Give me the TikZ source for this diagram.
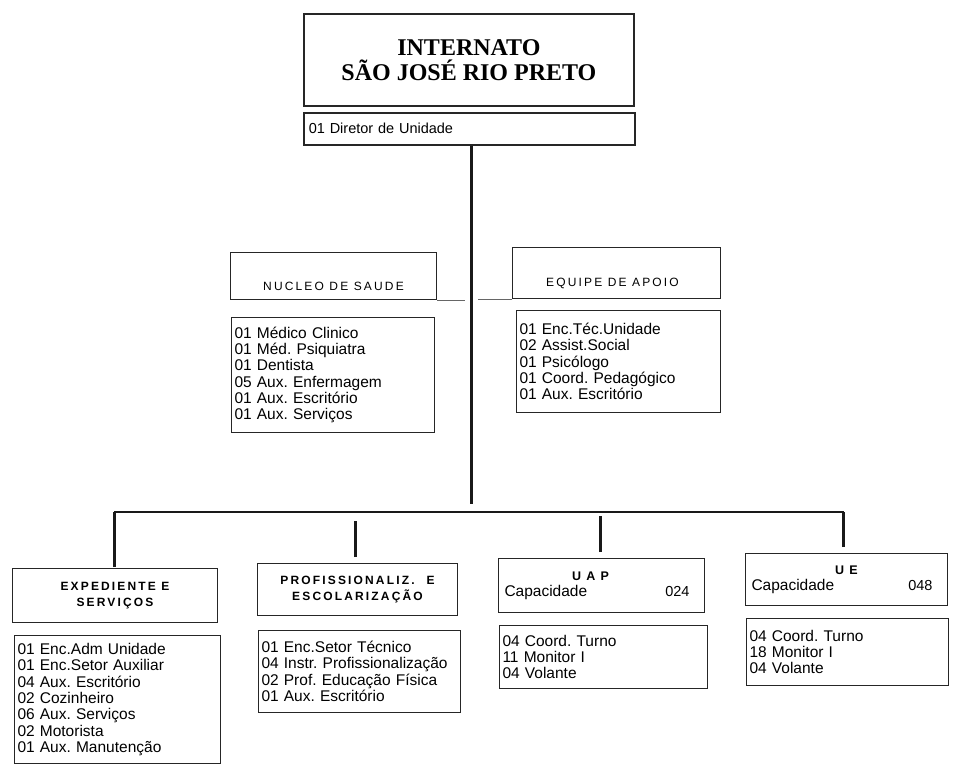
\documentclass[tikz,border=0pt]{standalone}
\usepackage{fontspec}
\setmainfont{Liberation Sans}
\newfontfamily\titlefont{Liberation Serif}
\newfontfamily\hdfont[LetterSpace=18]{Liberation Sans}
\frenchspacing
\begin{document}
\begin{tikzpicture}[x=1pt,y=-1pt,
  box/.style={draw=black!85, line width=1pt, inner sep=0pt, anchor=north west},
  listbox/.style={box, align=left, inner xsep=3pt, font=\frenchspacing\fontsize{15.5}{16.3}\selectfont},
  hdtext/.style={font=\hdfont\fontsize{12}{15}\selectfont, align=center, inner sep=0pt},
  bdtext/.style={font=\hdfont\bfseries\fontsize{12}{15.5}\selectfont, align=center},
  trunk/.style={line width=3pt, black!90},
  barline/.style={line width=2pt, black!90},
  thinline/.style={line width=0.9pt, black!60}]
\useasboundingbox (0,0) rectangle (956,775);

% top
\node[box, line width=1.8pt, minimum width=330, minimum height=92, align=center,
  font=\titlefont\bfseries\fontsize{24}{25}\selectfont] (title) at (303,13)
  {INTERNATO\\SÃO JOSÉ RIO PRETO};
\node[box, line width=1.6pt, minimum width=331, minimum height=32, text width=321,
  inner xsep=5pt, align=left, font=\fontsize{14.5}{16}\selectfont] (dir) at (303,112)
  {01 Diretor de Unidade};

% middle level
\node[box, minimum width=206, minimum height=47] (nuc) at (230,252) {};
\node[hdtext] (nuct) at ([yshift=-10pt]nuc.center) {NUCLEO DE SAUDE};
\node[listbox, text width=197, minimum height=115] (nucl) at (231,317)
  {01 Médico Clinico\\01 Méd. Psiquiatra\\01 Dentista\\05 Aux. Enfermagem\\01 Aux. Escritório\\01 Aux. Serviços};

\node[box, minimum width=208, minimum height=51] (eq) at (512,247) {};
\node[hdtext] (eqt) at ([xshift=-4pt,yshift=-10pt]eq.center) {EQUIPE DE APOIO};
\node[listbox, text width=198, minimum height=102] (eql) at (516,310)
  {01 Enc.Téc.Unidade\\02 Assist.Social\\01 Psicólogo\\01 Coord. Pedagógico\\01 Aux. Escritório};

% bottom level
\node[box, minimum width=205, minimum height=54, bdtext] (exp) at (12,568)
  {EXPEDIENTE E\\SERVIÇOS};
\node[listbox, text width=200, minimum height=128] (expl) at (14,635)
  {01 Enc.Adm Unidade\\01 Enc.Setor Auxiliar\\04 Aux. Escritório\\02 Cozinheiro\\06 Aux. Serviços\\02 Motorista\\01 Aux. Manutenção};

\node[box, minimum width=200, minimum height=52, bdtext] (prof) at (257,563)
  {PROFISSIONALIZ.\quad E\\ESCOLARIZAÇÃO};
\node[listbox, text width=196, minimum height=82] (profl) at (258,630)
  {01 Enc.Setor Técnico\\04 Instr. Profissionalização\\02 Prof. Educação Física\\01 Aux. Escritório};

\node[box, minimum width=206, minimum height=54, text width=194, inner xsep=6pt,
  align=left, font=\fontsize{15.5}{16}\selectfont] (uap) at (498,558)
  {\hspace*{\fill}{\hdfont\bfseries\fontsize{12.5}{15}\selectfont U A P}\hspace*{\fill}\hspace*{22pt}\null\\Capacidade\hfill {\fontsize{14.5}{16}\selectfont 024}\hspace*{9pt}\null};
\node[listbox, text width=202, minimum height=63] (uapl) at (499,625)
  {04 Coord. Turno\\11 Monitor I\\04 Volante};

\node[box, minimum width=202, minimum height=52, text width=190, inner xsep=6pt,
  align=left, font=\fontsize{15.5}{16}\selectfont] (ue) at (745,553)
  {\hspace*{\fill}{\hdfont\bfseries\fontsize{12.5}{15}\selectfont U E}\hspace*{\fill}\null\\Capacidade\hfill {\fontsize{14.5}{16}\selectfont 048}\hspace*{9pt}\null};
\node[listbox, text width=196, minimum height=67] (uel) at (746,618)
  {04 Coord. Turno\\18 Monitor I\\04 Volante};

% connectors
\coordinate (trunkend) at (471,504);
\coordinate (bar) at (471,512);
\coordinate (g1) at (465,298);
\coordinate (g2) at (478,298);
\draw[thinline] (nuc.south east) -- (nuc.south east -| g1);
\draw[thinline] (eq.south west -| g2) -- (eq.south west);
\draw[trunk] (dir.south -| trunkend) -- (trunkend);
\draw[barline] ([xshift=-1pt]exp.north |- bar) -- ([xshift=-3pt]ue.north |- bar);
\draw[trunk] ([xshift=-1pt,yshift=1pt]exp.north) -- ([xshift=-1pt]exp.north |- bar);
\draw[trunk] ([xshift=-3pt,yshift=6pt]ue.north) -- ([xshift=-3pt]ue.north |- bar);
\draw[trunk] ([xshift=-2pt,yshift=6pt]prof.north) -- ([xshift=-2pt,yshift=-9pt]prof.north |- bar);
\draw[trunk] ([yshift=6pt]uap.north -| 600,0) -- ([yshift=-4pt]bar -| 600,0);
\end{tikzpicture}
\end{document}
